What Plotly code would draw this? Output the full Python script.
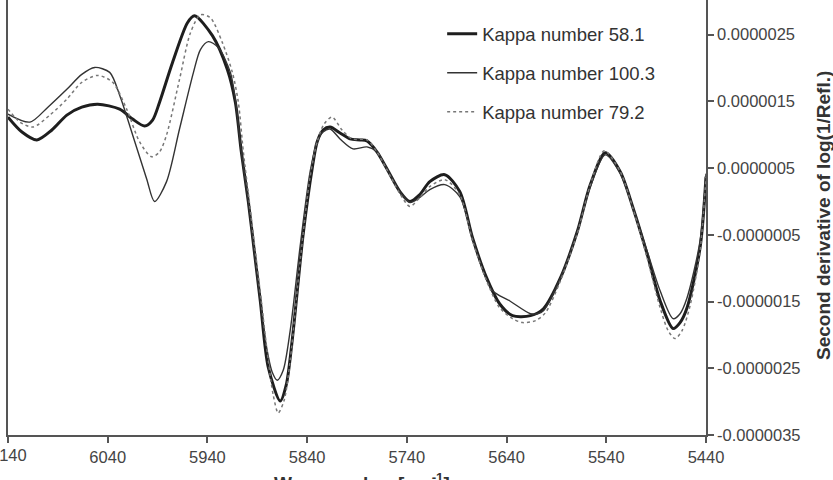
import plotly.graph_objects as go

# ---- data (values in units of 1e-6) ----
wn_581 = [6140, 6126, 6111, 6096, 6081, 6066, 6050, 6028, 6015, 6003, 5995, 5988, 5975, 5960, 5953,
          5935, 5920, 5912, 5906, 5899, 5893, 5887, 5879, 5867, 5861, 5855, 5844, 5835, 5830, 5824,
          5817, 5807, 5797, 5787, 5780, 5770, 5760, 5747, 5737, 5727, 5717, 5702, 5687, 5674, 5660,
          5647, 5634, 5616, 5603, 5586, 5569, 5556, 5541, 5526, 5513, 5499, 5486, 5473, 5466, 5459,
          5446, 5440]
val_581 = [1.265, 1.042, 0.923, 1.071, 1.295, 1.414, 1.458, 1.384, 1.235, 1.131, 1.220, 1.488, 2.083, 2.679, 2.783,
           2.485, 1.979, 1.488, 0.744, 0.0, -0.744, -1.488, -2.485, -2.991, -2.753, -2.083, -0.491, 0.491, 0.893, 1.071,
           1.116, 1.027, 0.938, 0.923, 0.908, 0.744, 0.491, 0.149, 0.0, 0.104, 0.298, 0.402, 0.149, -0.551, -1.146,
           -1.533, -1.711, -1.711, -1.607, -1.146, -0.446, 0.253, 0.729, 0.446, -0.104, -0.789, -1.488, -1.905, -1.815, -1.592,
           -0.699, 0.372]

wn_1003 = [6140, 6118, 6100, 6081, 6066, 6053, 6038, 6028, 6015, 6001, 5993, 5981, 5968, 5954, 5947,
           5939, 5929, 5917, 5912, 5906, 5899, 5893, 5887, 5881, 5875, 5870, 5864, 5857, 5847, 5837,
           5830, 5824, 5817, 5807, 5794, 5780, 5770, 5760, 5747, 5737, 5727, 5717, 5702, 5687, 5674,
           5667, 5654, 5637, 5616, 5609, 5603, 5586, 5569, 5556, 5541, 5526, 5513, 5499, 5486, 5473,
           5466, 5459, 5446, 5440]
val_1003 = [1.310, 1.190, 1.414, 1.682, 1.905, 2.009, 1.935, 1.592, 0.997, 0.342, 0.0, 0.298, 1.086, 1.935, 2.277,
            2.396, 2.307, 1.935, 1.533, 0.744, 0.0, -0.744, -1.488, -2.158, -2.560, -2.679, -2.530, -1.935, -0.670, 0.446,
            0.893, 1.042, 1.086, 0.938, 0.789, 0.818, 0.744, 0.491, 0.149, -0.015, 0.060, 0.179, 0.253, 0.074, -0.551,
            -0.893, -1.339, -1.488, -1.682, -1.682, -1.637, -1.146, -0.446, 0.223, 0.699, 0.417, -0.104, -0.744, -1.339, -1.756,
            -1.682, -1.443, -0.595, 0.417]

wn_792 = [6140, 6128, 6115, 6098, 6081, 6066, 6050, 6035, 6021, 6008, 5996, 5988, 5981, 5968, 5957,
          5947, 5937, 5925, 5915, 5909, 5904, 5898, 5892, 5886, 5879, 5874, 5869, 5863, 5857, 5847,
          5837, 5830, 5823, 5815, 5805, 5795, 5780, 5770, 5760, 5747, 5737, 5727, 5717, 5702, 5687,
          5674, 5660, 5647, 5634, 5624, 5611, 5601, 5586, 5569, 5556, 5542, 5526, 5513, 5499, 5486,
          5478, 5471, 5464, 5456, 5446, 5440]
val_792 = [1.384, 1.190, 1.116, 1.295, 1.533, 1.786, 1.890, 1.786, 1.384, 0.893, 0.670, 0.744, 0.997, 1.830, 2.530,
           2.798, 2.753, 2.381, 1.935, 1.488, 0.744, 0.0, -0.744, -1.488, -2.381, -2.902, -3.170, -2.976, -2.381, -0.893,
           0.372, 0.893, 1.161, 1.265, 1.071, 0.938, 0.923, 0.744, 0.476, 0.119, -0.074, 0.060, 0.223, 0.327, 0.104,
           -0.595, -1.190, -1.592, -1.756, -1.815, -1.786, -1.667, -1.190, -0.476, 0.253, 0.759, 0.446, -0.119, -0.848, -1.592,
           -1.935, -2.054, -1.935, -1.563, -0.744, 0.372]

series_names = ["Kappa number 58.1", "Kappa number 100.3", "Kappa number 79.2"]
x_ticks = [6140, 6040, 5940, 5840, 5740, 5640, 5540, 5440]
y_ticks = [-3.5e-6, -2.5e-6, -1.5e-6, -0.5e-6, 0.5e-6, 1.5e-6, 2.5e-6]
y_tick_labels = ["-0.0000035", "-0.0000025", "-0.0000015", "-0.0000005", "0.0000005", "0.0000015", "0.0000025"]

SCALE = 1e-6
FONT = "Liberation Sans, Arial, Helvetica, sans-serif"

fig = go.Figure()
styles = [
    dict(color="#1e1e1e", width=3.0, dash="solid"),
    dict(color="#333333", width=1.4, dash="solid"),
    dict(color="#777777", width=1.5, dash="dot"),
]
for i, (wn, vals) in enumerate([(wn_581, val_581), (wn_1003, val_1003), (wn_792, val_792)]):
    fig.add_trace(go.Scatter(
        x=wn, y=[v * SCALE for v in vals], mode="lines", name=series_names[i],
        line=dict(shape="spline", smoothing=0.8, **styles[i]), legendgroup=f"g{i}",
    ))

fig.update_layout(
    width=833, height=480,
    margin=dict(l=8, r=127, t=0, b=45),
    plot_bgcolor="white", paper_bgcolor="white",
    font=dict(family=FONT, color="#444444", size=16),
    showlegend=True,
    legend=dict(x=0.622, y=0.965, xanchor="left", yanchor="top",
                font=dict(size=18.5, color="#333333", family=FONT),
                bgcolor="rgba(0,0,0,0)", tracegroupgap=12, traceorder="grouped"),
    xaxis=dict(range=[6140, 5440], tickvals=x_ticks, ticktext=[str(t) for t in x_ticks],
               showgrid=False, zeroline=False, showline=True, linecolor="#555555", linewidth=1.5,
               ticks="outside", ticklen=6, tickcolor="#555555", tickwidth=1.5,
               tickfont=dict(size=16.5, color="#444444")),
    yaxis=dict(range=[-3.5e-6, 3.02e-6], side="right", tickvals=y_ticks, ticktext=y_tick_labels,
               showgrid=False, zeroline=False, showline=True, mirror=True, linecolor="#555555", linewidth=1.5,
               ticks="outside", ticklen=6, tickcolor="#555555", tickwidth=1.5,
               tickfont=dict(size=16.5, color="#444444")),
)

# first tick label, partly cut by the left edge as in the reference
fig.add_annotation(text=str(x_ticks[0]), xref="x", yref="paper", x=x_ticks[0], y=0,
                   xanchor="center", yanchor="top", yshift=-9, showarrow=False,
                   font=dict(size=16.5, color="#444444", family=FONT))
fig.add_annotation(text="<b>Wavenumber [cm<sup>-1</sup>]</b>", xref="paper", yref="paper",
                   x=(362 - 8) / 698, y=0, xanchor="center", yanchor="top", yshift=-33,
                   showarrow=False, font=dict(size=19, color="#333333", family=FONT))
fig.add_annotation(text="<b>Second derivative of log(1/Refl.)</b>", xref="paper", yref="paper",
                   x=1, y=(435 - 216) / 435, xanchor="center", yanchor="middle", xshift=823 - 706,
                   textangle=-90, showarrow=False, font=dict(size=19, color="#333333", family=FONT))

fig.write_html("out.html")
